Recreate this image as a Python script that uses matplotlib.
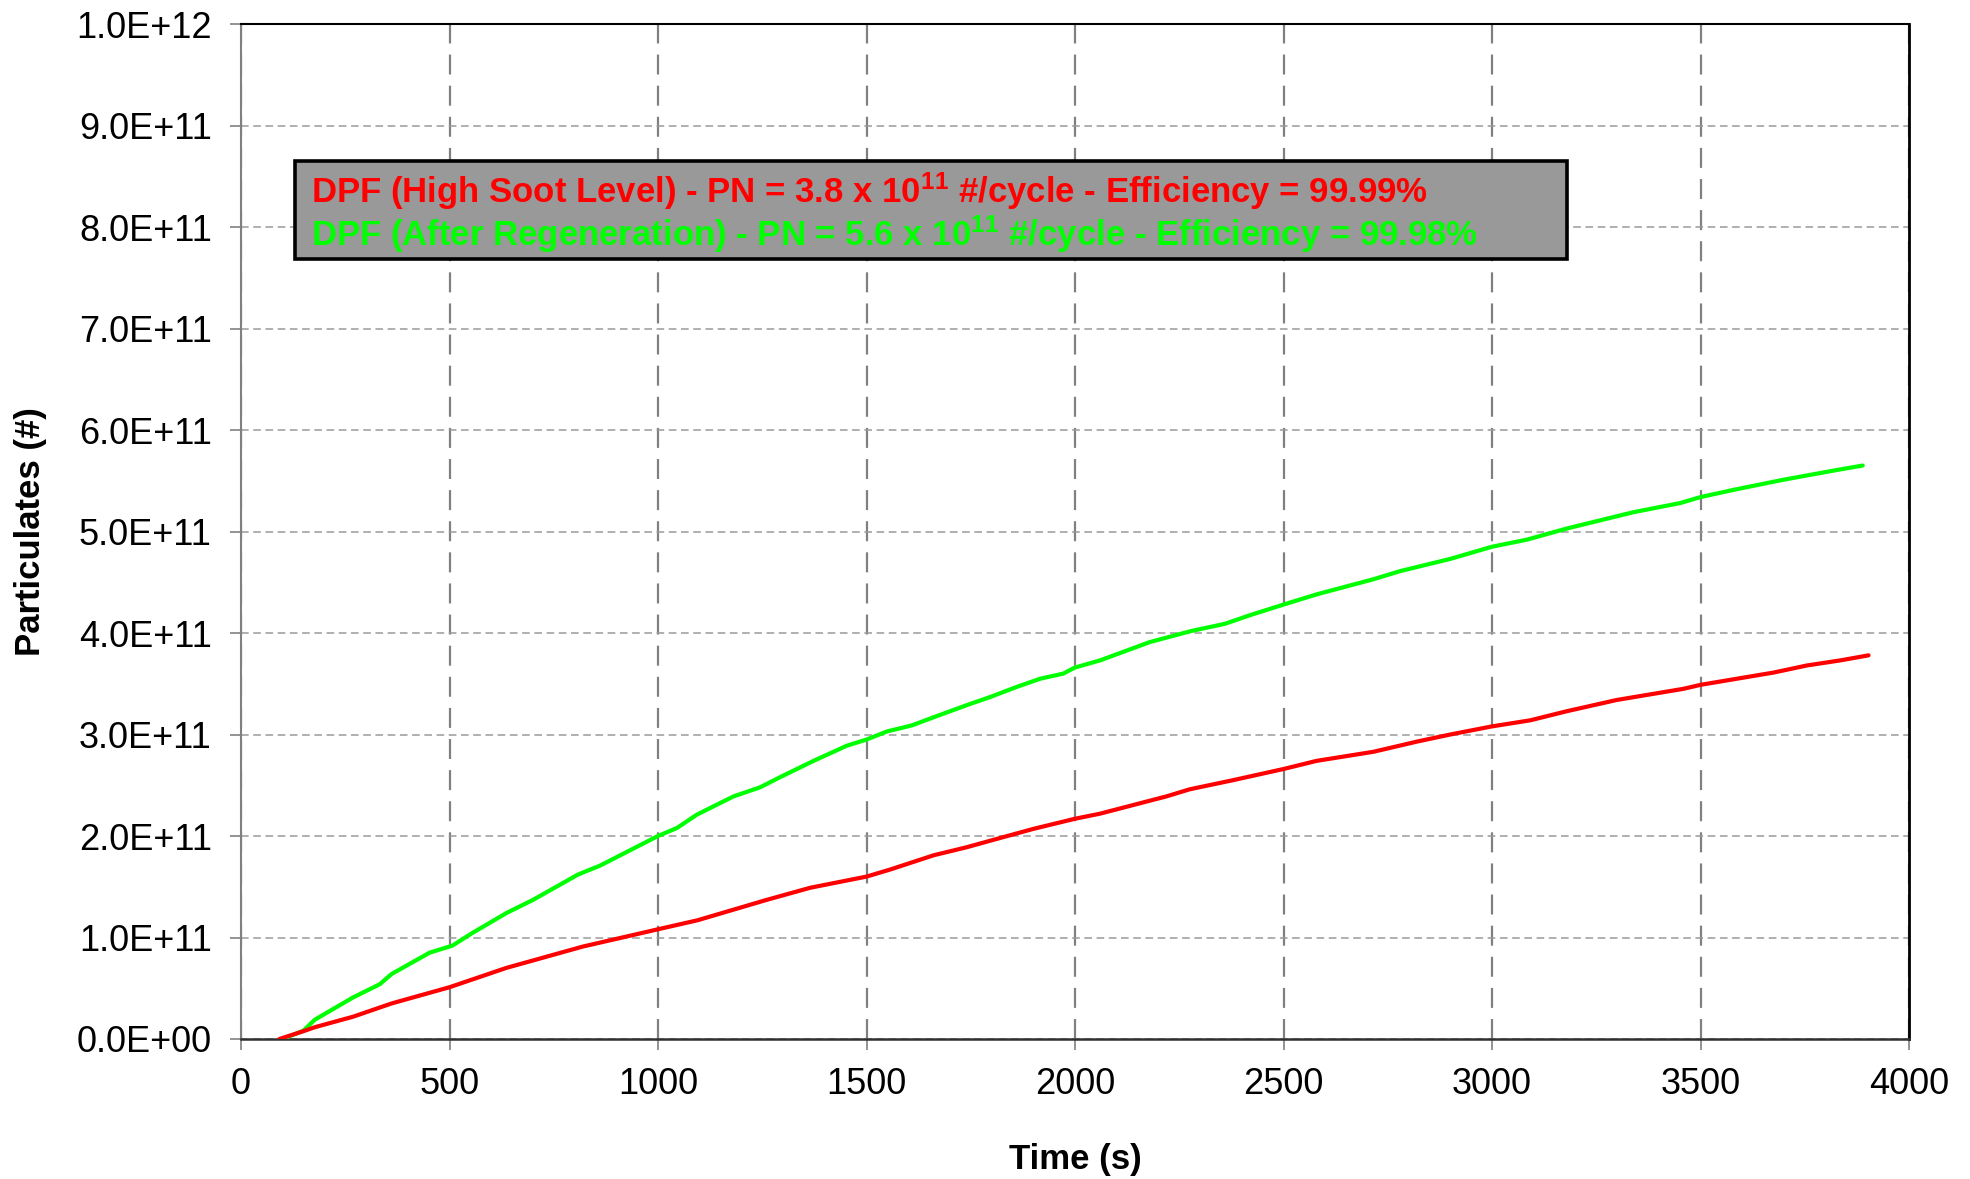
import matplotlib
matplotlib.use("Agg")
import matplotlib.pyplot as plt
from matplotlib.ticker import FuncFormatter, MultipleLocator
from matplotlib.lines import Line2D
from matplotlib.patches import Rectangle

plt.rcParams['font.family'] = ['Liberation Sans', 'DejaVu Sans']
plt.rcParams['mathtext.fontset'] = 'custom'
plt.rcParams['mathtext.rm'] = 'Liberation Sans:bold'
plt.rcParams['mathtext.bf'] = 'Liberation Sans:bold'

# ---- data (time in s, particulates in units of 1e11) ----
green_t = [99, 149, 177, 269, 333, 361, 452, 507, 553, 636, 700, 808, 862, 1000,
           1046, 1093, 1181, 1245, 1293, 1373, 1453, 1500, 1549, 1609, 1661, 1741,
           1797, 1861, 1917, 1972, 2000, 2060, 2179, 2279, 2359, 2423, 2500, 2579,
           2716, 2780, 2900, 3000, 3084, 3180, 3339, 3451, 3501, 3579, 3699, 3819, 3889]
green_v = [0.0, 0.08, 0.19, 0.41, 0.54, 0.64, 0.85, 0.92, 1.04, 1.24, 1.37, 1.62, 1.71, 2.00,
           2.08, 2.21, 2.39, 2.48, 2.58, 2.74, 2.89, 2.95, 3.03, 3.09, 3.17, 3.29,
           3.37, 3.47, 3.55, 3.60, 3.66, 3.73, 3.91, 4.02, 4.09, 4.18, 4.28, 4.38,
           4.53, 4.61, 4.73, 4.85, 4.92, 5.03, 5.19, 5.28, 5.34, 5.41, 5.51, 5.60, 5.65]

red_t = [92, 149, 177, 269, 361, 500, 636, 819, 999, 1095, 1260, 1365, 1500, 1557,
         1661, 1741, 1820, 1900, 2000, 2060, 2219, 2275, 2379, 2500, 2579, 2716,
         2820, 2900, 3000, 3092, 3180, 3299, 3459, 3501, 3675, 3755, 3835, 3903]
red_v = [0.0, 0.076, 0.116, 0.22, 0.35, 0.51, 0.70, 0.91, 1.08, 1.17, 1.37, 1.49, 1.60, 1.67,
         1.81, 1.89, 1.98, 2.07, 2.17, 2.22, 2.39, 2.46, 2.55, 2.66, 2.74, 2.83,
         2.93, 3.00, 3.08, 3.14, 3.23, 3.34, 3.45, 3.49, 3.61, 3.68, 3.73, 3.78]

scale = 1e11
red_label = r"DPF (High Soot Level) - PN = 3.8 x $\mathbf{10^{11}}$ #/cycle - Efficiency = 99.99%"
green_label = r"DPF (After Regeneration) - PN = 5.6 x $\mathbf{10^{11}}$ #/cycle - Efficiency = 99.98%"

W, H = 1970, 1179
L, R, T, B = 241, 1909, 24, 1039
fig = plt.figure(figsize=(19.7, 11.79), dpi=100)
ax = fig.add_axes([L / W, 1 - B / H, (R - L) / W, (B - T) / H])

def ax_x(px):
    return (px - L) / (R - L)

def ax_y(py):
    return (B - py) / (B - T)

ax.plot(green_t, [v * scale for v in green_v], color='#00FF00', lw=3.0, zorder=3,
        solid_capstyle='round', solid_joinstyle='round')
ax.plot(red_t, [v * scale for v in red_v], color='#FF0000', lw=3.0, zorder=3,
        solid_capstyle='round', solid_joinstyle='round')

ax.set_xlim(0, 4000)
ax.set_ylim(0, 1e12)
ax.xaxis.set_major_locator(MultipleLocator(500))
ax.yaxis.set_major_locator(MultipleLocator(1e11))
ax.yaxis.set_major_formatter(FuncFormatter(lambda v, p: f"{v:.1E}"))

ax.grid(axis='x', color='#808080', lw=1.6, dashes=(9, 5))
ax.grid(axis='y', color='#9a9a9a', lw=1.1, dashes=(5, 3))
ax.set_axisbelow(True)

ax.tick_params(axis='both', direction='out', length=8, width=1.2, color='#808080',
               labelsize=26, labelcolor='black')
ax.tick_params(axis='y', pad=13)
ax.tick_params(axis='x', pad=12)

ax.spines['left'].set_color('#808080')
ax.spines['left'].set_linewidth(1.5)
ax.spines['bottom'].set_color('#303030')
ax.spines['bottom'].set_linewidth(1.8)
ax.spines['top'].set_color('black')
ax.spines['top'].set_linewidth(1.5)
ax.spines['right'].set_color('black')
ax.spines['right'].set_linewidth(2.0)

ax.set_xlabel("Time (s)", fontsize=25, fontweight='bold', labelpad=30)
ax.set_ylabel("Particulates (#)", fontsize=25, fontweight='bold', labelpad=21)

# legend box
box = Rectangle((ax_x(295), ax_y(259)), ax_x(1567) - ax_x(295), ax_y(161) - ax_y(259),
                transform=ax.transAxes, facecolor='#999999', edgecolor='black',
                lw=2.6, zorder=4)
ax.add_patch(box)

handles = [Line2D([], [], color='#FF0000', lw=0), Line2D([], [], color='#00FF00', lw=0)]
leg = ax.legend(handles, [red_label, green_label], loc='upper left',
                bbox_to_anchor=(ax_x(311), ax_y(171)),
                borderaxespad=0, handlelength=0, handletextpad=0,
                frameon=False, prop={'size': 25, 'weight': 'bold'},
                labelspacing=0.02, borderpad=0)
leg.set_zorder(5)
for txt, c in zip(leg.get_texts(), ['#FF0000', '#00FF00']):
    txt.set_color(c)

fig.savefig("out.png", dpi=100)
